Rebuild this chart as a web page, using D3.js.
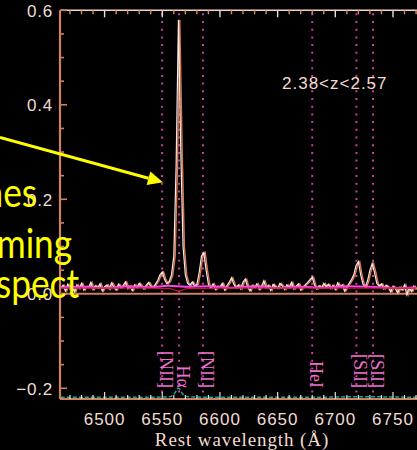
<!DOCTYPE html>
<html>
<head>
<meta charset="utf-8">
<script src="https://cdn.jsdelivr.net/npm/d3@7"></script>
<style>
  html, body { margin: 0; padding: 0; background: #000; }
  svg { display: block; }
</style>
</head>
<body>
<script>
// Stacked rest-frame spectrum around H-alpha, 2.38 < z < 2.57

// wavelength grid of the stacked spectrum (Å)
const lambdaStart = 6462;
const lambdaStep = 2;

// stacked flux, one value per grid point
const stackFlux = [
  0.012, 0.018, 0.006, 0.020, 0.010, 0.015, 0.004, 0.019, 0.011, 0.022,
  0.008, 0.016, 0.013, 0.024, 0.009, 0.017, 0.012, 0.021, 0.006, 0.015,
  0.019, 0.010, 0.023, 0.014, 0.008, 0.020, 0.012, 0.017, 0.025, 0.011,
  0.016, 0.007, 0.019, 0.013, 0.022, 0.015, 0.010, 0.018, 0.024, 0.016,
  0.014, 0.020, 0.028, 0.040, 0.046, 0.030, 0.021, 0.026, 0.040, 0.080,
  0.270, 0.580, 0.310, 0.100, 0.040, 0.022, 0.018, 0.025, 0.016, 0.020,
  0.045, 0.080, 0.087, 0.050, 0.020, 0.012, 0.021, 0.009, 0.016, 0.014,
  0.022, 0.008, 0.017, 0.024, 0.034, 0.020, 0.012, 0.019, 0.010, 0.025,
  0.031, 0.014, 0.006, 0.018, 0.013, 0.021, 0.009, 0.016, 0.027, 0.012,
  0.018, 0.007, 0.020, 0.015, 0.011, 0.022, 0.017, 0.009, 0.019, 0.013,
  0.024, 0.010, 0.016, 0.021, 0.008, 0.014, 0.019, 0.024, 0.030, 0.035,
  0.018, 0.010, 0.017, 0.012, 0.022, 0.015, 0.020, 0.011, 0.018, 0.009,
  0.023, 0.014, 0.019, 0.006, 0.015, 0.022, 0.030, 0.040, 0.060, 0.068,
  0.040, 0.020, 0.014, 0.028, 0.050, 0.064, 0.045, 0.022, 0.016, 0.021,
  0.010, 0.018, 0.013, 0.004, 0.016, 0.011, 0.002, 0.014, 0.008, 0.019,
  -0.002, 0.012, 0.005, 0.016, 0.009
];

// overlaid comparison stack, drawn with a small wavelength offset
const compareShift = 1.2;

// smooth continuum level (magenta)
const contLambda = [6462, 6480, 6500, 6520, 6540, 6555, 6570, 6590, 6610, 6630, 6650, 6670, 6690, 6710, 6730, 6750, 6770];
const contFlux   = [0.013, 0.015, 0.012, 0.016, 0.014, 0.017, 0.015, 0.016, 0.013, 0.016, 0.012, 0.015, 0.013, 0.016, 0.015, 0.012, 0.014];

// fitted continuum with stellar absorption under H-alpha (dark red)
const fitLambda = [6462, 6540, 6556, 6564, 6572, 6600, 6680, 6770];
const fitFlux   = [0.012, 0.012, 0.011, 0.006, 0.011, 0.012, 0.012, 0.012];

// error spectrum, shown offset at the bottom of the panel
const errLambda = [6462, 6540, 6556, 6560, 6564, 6568, 6572, 6590, 6680, 6720, 6770];
const errSigma  = [0.006, 0.006, 0.007, 0.012, 0.025, 0.012, 0.007, 0.006, 0.006, 0.007, 0.006];
const errOffset = -0.225;

// emission lines (vacuum rest wavelengths)
const lineNames  = ["[NII]", "Hα", "[NII]", "HeI", "[SII]", "[SII]"];
const lineLambda = [6549.86, 6564.61, 6585.27, 6679.99, 6718.29, 6732.67];

// axis ticks
const xMajorTicks = [6500, 6550, 6600, 6650, 6700, 6750];
const yMajorTicks = [0.6, 0.4, 0.2, 0.0, -0.2];
const yTickLabels = ["0.6", "0.4", "0.2", "0.0", "\u22120.2"];

const zLabel = "2.38<z<2.57";
const xTitle = "Rest wavelength (Å)";

// slide overlay
const overlayWords = ["nes", "ming", "spect"];
const arrowFrom = [6409.3, 0.331];
const arrowTo   = [6550.6, 0.236];

const W = 417, H = 450;
const svg = d3.select("body").append("svg").attr("width", W).attr("height", H)
  .style("background", "#000");

const pxPerA = 1.1536;
const x = d3.scaleLinear().domain([6461.35, 6790]).range([60, 60 + (6790 - 6461.35) * pxPerA]);
const y = d3.scaleLinear().domain([-0.2227, 0.6]).range([399, 10.3]);

const plotLeft = x.range()[0], plotTop = y.range()[1], plotBottom = y.range()[0];

svg.append("clipPath").attr("id", "plotClip")
  .append("rect").attr("x", plotLeft).attr("y", plotTop - 1)
  .attr("width", W - plotLeft).attr("height", plotBottom - plotTop + 2);

const spec = stackFlux.map((f, i) => ({ l: lambdaStart + i * lambdaStep, f }));

const salmon = "#cf8060";
const pale = "#f2dcd2";

const plot = svg.append("g").attr("clip-path", "url(#plotClip)");

// zero level
plot.append("line")
  .attr("x1", plotLeft).attr("x2", W)
  .attr("y1", y(0)).attr("y2", y(0))
  .attr("stroke", salmon).attr("stroke-width", 2);

// emission line markers
plot.selectAll("line.em").data(lineLambda).join("line")
  .attr("class", "em")
  .attr("x1", d => x(d)).attr("x2", d => x(d))
  .attr("y1", plotTop + 3).attr("y2", plotBottom)
  .attr("stroke", "#d23ca6").attr("stroke-width", 2)
  .attr("stroke-dasharray", "2,5.7");

const lineGen = d3.line().x(d => x(d.l)).y(d => y(d.f));

// comparison stack (orange) under the main stack (white)
plot.append("path").datum(spec.map(d => ({ l: d.l + compareShift, f: d.f })))
  .attr("d", lineGen).attr("fill", "none")
  .attr("stroke", "#e0784a").attr("stroke-width", 1.4);

plot.append("path").datum(spec)
  .attr("d", lineGen).attr("fill", "none")
  .attr("stroke", "#f4ecec").attr("stroke-width", 1.2);

// continuum and fit
plot.append("path").datum(contLambda.map((l, i) => ({ l, f: contFlux[i] })))
  .attr("d", d3.line().x(d => x(d.l)).y(d => y(d.f)).curve(d3.curveMonotoneX))
  .attr("fill", "none").attr("stroke", "#ff44e8").attr("stroke-width", 2);

plot.append("path").datum(fitLambda.map((l, i) => ({ l, f: fitFlux[i] })))
  .attr("d", d3.line().x(d => x(d.l)).y(d => y(d.f)).curve(d3.curveMonotoneX))
  .attr("fill", "none").attr("stroke", "#c01838").attr("stroke-width", 1.3);

// error spectrum
plot.append("path").datum(errLambda.map((l, i) => ({ l, f: errOffset + errSigma[i] })))
  .attr("d", d3.line().x(d => x(d.l)).y(d => y(d.f)).curve(d3.curveMonotoneX))
  .attr("fill", "none").attr("stroke", "#18a890").attr("stroke-width", 1.5)
  .attr("stroke-dasharray", "4,2");

// line labels, rotated to read downward
const labelG = svg.append("g");
lineNames.forEach((name, i) => {
  labelG.append("text")
    .attr("transform", `translate(${x(lineLambda[i]) - 2},${y(-0.1995)}) rotate(90)`)
    .attr("text-anchor", "end")
    .attr("font-family", "Liberation Serif, serif")
    .attr("font-size", 18)
    .attr("fill", "#ec70cc")
    .text(name);
});

// axes
const axisG = svg.append("g");
const xMinor = d3.range(6470, 6791, 10).filter(v => !xMajorTicks.includes(v));
const yMinor = d3.range(-0.2, 0.601, 0.05).map(v => +v.toFixed(2)).filter(v => !yMajorTicks.includes(v));

// top axis
axisG.append("line").attr("x1", plotLeft).attr("x2", W).attr("y1", plotTop).attr("y2", plotTop)
  .attr("stroke", "#f0d4c8").attr("stroke-width", 1.6);
axisG.selectAll("line.tmaj").data(xMajorTicks).join("line").attr("class", "tmaj")
  .attr("x1", d => x(d)).attr("x2", d => x(d)).attr("y1", plotTop).attr("y2", plotTop + 7)
  .attr("stroke", "#f0e0dc").attr("stroke-width", 1.4);
axisG.selectAll("line.tmin").data(xMinor).join("line").attr("class", "tmin")
  .attr("x1", d => x(d)).attr("x2", d => x(d)).attr("y1", plotTop).attr("y2", plotTop + 4)
  .attr("stroke", "#d88a64").attr("stroke-width", 1.4);

// bottom axis
axisG.append("line").attr("x1", plotLeft).attr("x2", W).attr("y1", plotBottom).attr("y2", plotBottom)
  .attr("stroke", salmon).attr("stroke-width", 2);
axisG.selectAll("line.bmaj").data(xMajorTicks).join("line").attr("class", "bmaj")
  .attr("x1", d => x(d)).attr("x2", d => x(d)).attr("y1", plotBottom).attr("y2", plotBottom - 7)
  .attr("stroke", "#e8dcd8").attr("stroke-width", 1.2);
axisG.selectAll("line.bmin").data(xMinor).join("line").attr("class", "bmin")
  .attr("x1", d => x(d)).attr("x2", d => x(d)).attr("y1", plotBottom).attr("y2", plotBottom - 4)
  .attr("stroke", "#e8dcd8").attr("stroke-width", 1.2);

// left axis
axisG.append("line").attr("x1", plotLeft).attr("x2", plotLeft).attr("y1", plotTop).attr("y2", plotBottom)
  .attr("stroke", salmon).attr("stroke-width", 2.2);
axisG.selectAll("line.lmaj").data(yMajorTicks).join("line").attr("class", "lmaj")
  .attr("x1", plotLeft).attr("x2", plotLeft + 7).attr("y1", d => y(d)).attr("y2", d => y(d))
  .attr("stroke", salmon).attr("stroke-width", 1.6);
axisG.selectAll("line.lmin").data(yMinor).join("line").attr("class", "lmin")
  .attr("x1", plotLeft).attr("x2", plotLeft + 4).attr("y1", d => y(d)).attr("y2", d => y(d))
  .attr("stroke", salmon).attr("stroke-width", 1.6);

// tick labels
svg.selectAll("text.xt").data(xMajorTicks).join("text").attr("class", "xt")
  .attr("x", d => x(d)).attr("y", 425)
  .attr("text-anchor", "middle")
  .attr("font-family", "Liberation Sans, Arial, sans-serif")
  .attr("font-size", 17).attr("letter-spacing", 1)
  .attr("fill", pale).text(d => d);

svg.selectAll("text.yt").data(yMajorTicks).join("text").attr("class", "yt")
  .attr("x", 53).attr("y", d => y(d) + 6.5)
  .attr("text-anchor", "end")
  .attr("font-family", "Liberation Sans, Arial, sans-serif")
  .attr("font-size", 17).attr("letter-spacing", 0.8)
  .attr("fill", pale).text((d, i) => yTickLabels[i]);

svg.append("text")
  .attr("x", 242).attr("y", 446)
  .attr("text-anchor", "middle")
  .attr("font-family", "Liberation Serif, serif")
  .attr("font-size", 19).attr("letter-spacing", 0.9)
  .attr("fill", pale).text(xTitle);

svg.append("text")
  .attr("x", 282).attr("y", 89)
  .attr("font-family", "Liberation Sans, Arial, sans-serif")
  .attr("font-size", 17).attr("letter-spacing", 1)
  .attr("fill", pale).text(zLabel);

// slide overlay: arrow and partially visible caption
const yellow = "#ffff00";
const ax0 = x(arrowFrom[0]), ay0 = y(arrowFrom[1]);
const ax1 = x(arrowTo[0]), ay1 = y(arrowTo[1]);
const ang = Math.atan2(ay1 - ay0, ax1 - ax0);
const headLen = 15, headHalf = 7;
const bx = ax1 - headLen * Math.cos(ang), by = ay1 - headLen * Math.sin(ang);
svg.append("line").attr("x1", ax0).attr("y1", ay0).attr("x2", bx).attr("y2", by)
  .attr("stroke", yellow).attr("stroke-width", 3);
svg.append("path")
  .attr("d", `M${ax1},${ay1} L${bx - headHalf * Math.sin(ang)},${by + headHalf * Math.cos(ang)} L${bx + headHalf * Math.sin(ang)},${by - headHalf * Math.cos(ang)} Z`)
  .attr("fill", yellow);

// caption words, slightly condensed
const wordEnds = [37, 72, 79];
const wordBase = [207, 258, 298];
const condense = 0.88;
overlayWords.forEach((w, i) => {
  svg.append("text")
    .attr("transform", `translate(${wordEnds[i]},${wordBase[i]}) scale(${condense},1)`)
    .attr("text-anchor", "end")
    .attr("font-family", "Lato, Open Sans, sans-serif")
    .attr("font-size", 40)
    .attr("fill", yellow).text(w);
});
</script>
</body>
</html>
